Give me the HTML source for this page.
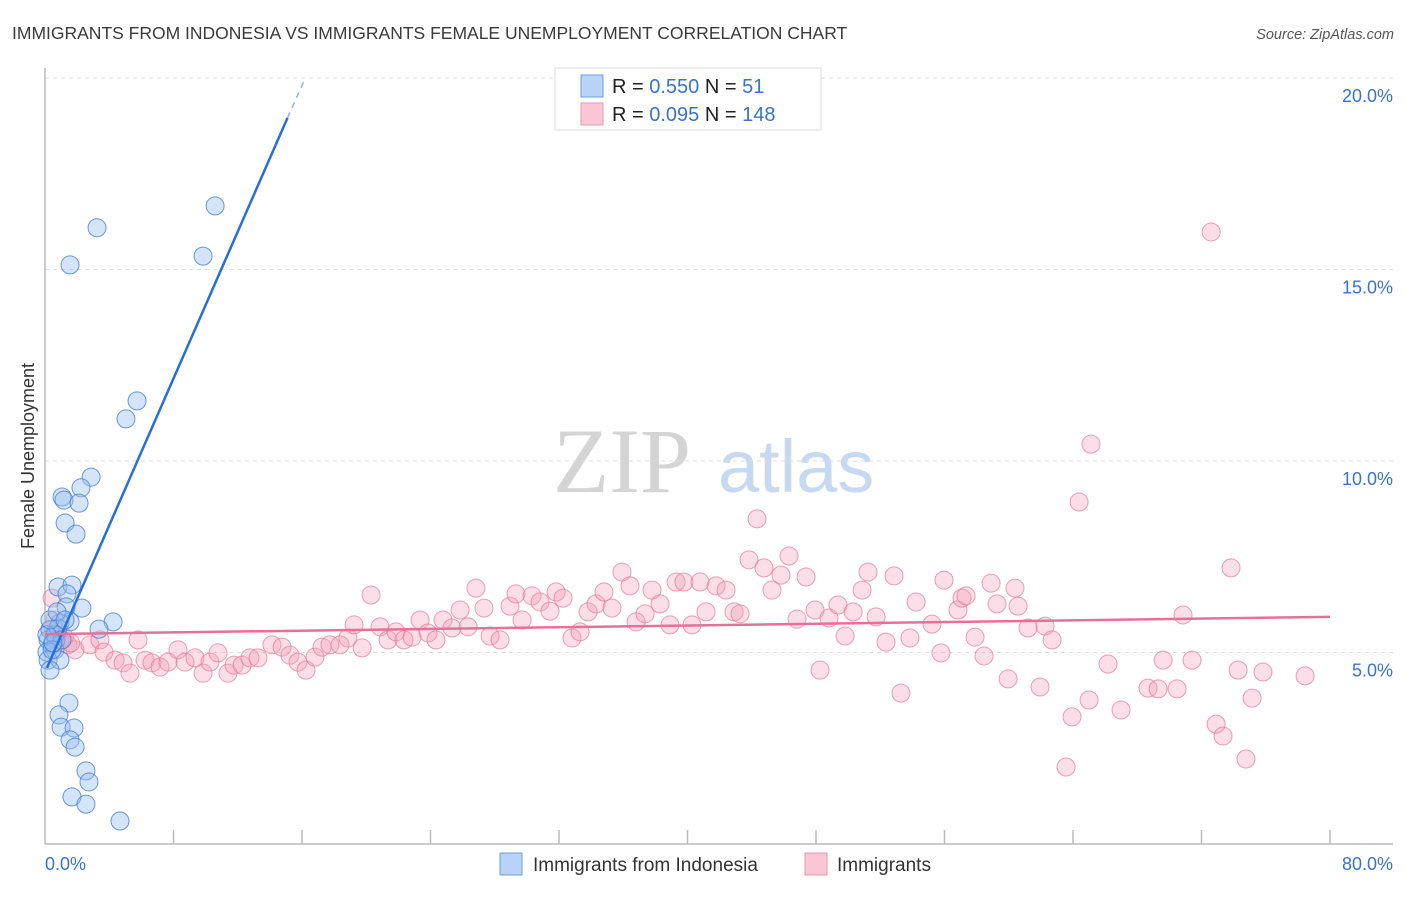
<!DOCTYPE html>
<html><head><meta charset="utf-8"><style>
body{margin:0;background:#fff;font-family:"Liberation Sans",sans-serif}
</style></head><body>
<svg id="chart" width="1406" height="892" xmlns="http://www.w3.org/2000/svg" style="font-family:'Liberation Sans',sans-serif">
<text x="12" y="39" font-size="17.5" fill="#3a3a3a">IMMIGRANTS FROM INDONESIA VS IMMIGRANTS FEMALE UNEMPLOYMENT CORRELATION CHART</text>
<text x="1394" y="39" font-size="14.5" fill="#555" font-style="italic" text-anchor="end">Source: ZipAtlas.com</text>
<g>
<text x="553" y="492" font-size="92" font-family="'Liberation Serif',serif" fill="#d4d4d4">ZIP</text>
<text x="718" y="492" font-size="74" fill="#c6d9f0">atlas</text>
</g>
<text transform="translate(34,456) rotate(-90)" font-size="18" fill="#333" text-anchor="middle">Female Unemployment</text>
<g id="grid"></g><g id="axes"></g><g id="pinkPts"></g><g id="bluePts"></g><g id="trends"></g>
<g>
<rect x="555" y="68" width="266" height="62" fill="#fff" stroke="#ddd"/>
<rect x="581" y="75" width="22" height="22" fill="#b8d3f5" stroke="#6d9ee0"/>
<rect x="581" y="103" width="22" height="22" fill="#f9c6d5" stroke="#ea96ad"/>
<text x="612" y="93" font-size="20" fill="#222">R = <tspan fill="#3b73c8">0.550</tspan>   N = <tspan fill="#3b73c8">  51</tspan></text>
<text x="612" y="121" font-size="20" fill="#222">R = <tspan fill="#3b73c8">0.095</tspan>   N = <tspan fill="#3b73c8">148</tspan></text>
</g>
<g>
<rect x="500" y="853" width="22" height="22" fill="#b8d3f5" stroke="#6d9ee0"/>
<text x="533" y="871" font-size="19" fill="#333">Immigrants from Indonesia</text>
<rect x="805" y="853" width="22" height="22" fill="#f9c6d5" stroke="#ea96ad"/>
<text x="837" y="871" font-size="19" fill="#333">Immigrants</text>
</g>
</svg>
<script>
const yTicks=[5,10,15,20];
const yTickLabels=["5.0%","10.0%","15.0%","20.0%"];
const xTickCount=10;
const blueX=[10.59,3.24,1.56,9.84,5.73,5.04,2.87,2.24,1.06,1.18,2.12,1.25,1.93,0.81,1.68,1.37,2.30,1.31,4.24,3.36,1.56,0.93,0.31,0.19,0.44,0.69,0.12,0.62,0.19,0.93,0.31,1.49,0.87,1.00,1.81,1.56,1.87,2.55,2.74,1.68,2.55,4.67,0.62,0.81,0.12,1.06,0.44,0.31,0.75,1.25,0.5];
const blueY=[16.66,16.09,15.12,15.35,11.57,11.10,9.58,9.30,9.06,8.98,8.90,8.38,8.09,6.71,6.76,6.53,6.16,6.19,5.80,5.61,5.80,5.77,5.59,5.33,5.20,5.33,5.01,5.07,4.80,4.80,4.54,3.68,3.37,3.05,3.03,2.72,2.53,1.91,1.62,1.23,1.04,0.60,5.46,5.64,5.46,5.33,5.07,5.85,6.06,5.85,5.25];
const pinkX=[0.44,0.62,0.93,1.43,1.87,2.80,3.42,3.67,4.36,4.86,5.29,5.79,6.23,6.66,7.16,7.66,8.28,8.72,9.34,9.84,10.27,10.77,11.39,11.77,12.27,12.76,13.26,14.13,14.76,15.25,15.75,16.25,16.81,17.25,17.74,18.37,18.86,19.24,19.74,20.30,20.86,21.36,21.85,22.35,22.85,23.35,23.85,24.34,24.78,25.34,25.84,26.34,26.83,27.33,27.71,28.33,28.95,29.32,29.70,30.32,30.82,31.44,31.82,32.25,32.81,33.31,33.81,34.31,34.80,35.30,35.92,36.42,36.80,37.36,37.79,38.29,38.91,39.29,39.78,40.28,40.78,41.15,41.78,42.40,42.90,43.27,43.83,44.33,44.76,45.26,45.82,46.32,46.82,47.38,47.94,48.25,48.81,49.37,49.81,50.31,50.87,51.24,51.74,52.36,52.86,53.29,53.85,54.23,55.22,55.78,55.97,56.84,57.09,57.34,57.90,58.46,58.90,59.27,59.96,60.39,60.58,61.20,61.95,62.26,62.70,63.57,63.94,64.38,65.00,65.12,66.18,66.99,68.67,69.30,69.61,70.48,70.85,71.41,72.60,72.91,73.34,73.84,74.28,74.77,75.15,75.83,78.45,0.3,0.6,1.2,1.6];
const pinkY=[6.42,5.85,5.33,5.20,5.07,5.20,5.33,5.01,4.80,4.73,4.46,5.33,4.80,4.73,4.62,4.75,5.07,4.75,4.86,4.46,4.75,4.99,4.46,4.67,4.67,4.86,4.86,5.20,5.14,4.93,4.75,4.54,4.88,5.14,5.20,5.20,5.38,5.72,5.12,6.50,5.67,5.33,5.54,5.33,5.40,5.85,5.51,5.33,5.85,5.64,6.11,5.67,6.68,6.16,5.43,5.33,6.21,6.53,5.85,6.48,6.32,6.08,6.58,6.42,5.38,5.54,6.06,6.27,6.58,6.16,7.10,6.74,5.80,6.01,6.63,6.27,5.72,6.84,6.84,5.72,6.84,6.06,6.74,6.63,6.06,6.01,7.42,8.49,7.21,6.63,7.02,7.52,5.87,6.97,6.11,4.54,5.90,6.24,5.43,6.06,6.63,7.10,5.93,5.27,7.00,3.94,5.38,6.32,5.74,4.99,6.89,6.11,6.42,6.48,5.40,4.91,6.81,6.27,4.31,6.68,6.21,5.64,4.10,5.69,5.33,2.01,3.32,8.93,3.76,10.44,4.70,3.50,4.07,4.05,4.80,4.05,5.98,4.80,15.98,3.13,2.82,7.21,4.54,2.22,3.81,4.49,4.39,5.6,5.5,5.4,5.25];
const blueTrendX=[0.12,15.1,16.1];
const blueTrendY=[4.6,18.96,19.9];
const pinkTrendX=[0,80];
const pinkTrendY=[5.48,5.93];
const NS="http://www.w3.org/2000/svg";
const X0=45,X1=1330,Y0=844,YS=191.5/5;
function xs(v){return X0+(v/80)*(X1-X0);}
function ys(v){return Y0-v*YS;}
function mk(t,a,p){const e=document.createElementNS(NS,t);for(const k in a)e.setAttribute(k,a[k]);p.appendChild(e);return e;}
const grid=document.getElementById('grid');
yTicks.forEach((t,i)=>{
 const l=mk('line',{x1:X0,x2:1393,y1:ys(t),y2:ys(t),stroke:'#ddd','stroke-dasharray':'4,4'},grid);
 
 
 const tx=mk('text',{x:1393,y:ys(t)+24,'font-size':18,fill:'#3b73c8','text-anchor':'end'},grid);
 tx.textContent=yTickLabels[i];
 
 
});
const ax=document.getElementById('axes');
const xa=mk('line',{x1:X0,x2:1393,y1:Y0,y2:Y0,stroke:'#bbb','stroke-width':1.5},ax);


const ya=mk('line',{x1:X0,x2:X0,y1:68,y2:Y0,stroke:'#bbb','stroke-width':1.5},ax);


for(let i=1;i<=xTickCount;i++){const x=xs(80*i/xTickCount);const t=mk('line',{x1:x,x2:x,y1:Y0,y2:Y0-14,stroke:'#bbb','stroke-width':1.5},ax);
 
 }
const l0=mk('text',{x:45,y:870,'font-size':18,fill:'#3b73c8'},ax);l0.textContent='0.0%';


const l1=mk('text',{x:1393,y:870,'font-size':18,fill:'#3b73c8','text-anchor':'end'},ax);l1.textContent='80.0%';


const pg=document.getElementById('pinkPts');
pinkX.forEach((v,i)=>{const c=mk('circle',{cx:xs(v),cy:ys(pinkY[i]),r:9,fill:'rgba(244,160,186,0.35)',stroke:'rgba(230,120,150,0.7)','stroke-width':1},pg);
 
 });
const bg=document.getElementById('bluePts');
blueX.forEach((v,i)=>{const c=mk('circle',{cx:xs(v),cy:ys(blueY[i]),r:9,fill:'rgba(150,190,240,0.4)',stroke:'rgba(60,120,210,0.75)','stroke-width':1},bg);
 
 });
const tg=document.getElementById('trends');
const b1=mk('line',{x1:xs(blueTrendX[0]),y1:ys(blueTrendY[0]),x2:xs(blueTrendX[1]),y2:ys(blueTrendY[1]),stroke:'#2a6fd6','stroke-width':2.5},tg);


const b2=mk('line',{x1:xs(blueTrendX[1]),y1:ys(blueTrendY[1]),x2:xs(blueTrendX[2]),y2:ys(blueTrendY[2]),stroke:'#8fb3e8','stroke-width':1.5,'stroke-dasharray':'6,5'},tg);


const p1=mk('line',{x1:xs(pinkTrendX[0]),y1:ys(pinkTrendY[0]),x2:xs(pinkTrendX[1]),y2:ys(pinkTrendY[1]),stroke:'#e5709a','stroke-width':2.5},tg);


</script>
</body></html>
